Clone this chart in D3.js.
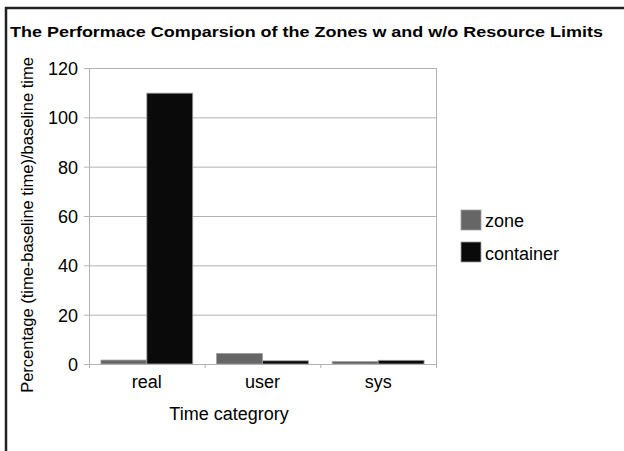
<!DOCTYPE html>
<html><head><meta charset="utf-8">
<script src="https://cdn.jsdelivr.net/npm/d3@7"></script>
<style>html,body{margin:0;padding:0;background:#fff;}svg{display:block;}</style>
</head><body>
<script>
const categories = ["real", "user", "sys"];
const seriesNames = ["zone", "container"];
const zoneValues = [1.6, 4.3, 1.0];
const containerValues = [109.8, 1.3, 1.5];
const yTicks = [0, 20, 40, 60, 80, 100, 120];
const colors = ["#666666", "#0a0a0a"];

(function () {
const W = 624, H = 451;
const svg = d3.select("body").append("svg").attr("width", W).attr("height", H);
svg.append("rect").attr("width", W).attr("height", H).attr("fill", "#fff");
// frame
svg.append("line").attr("x1", 6).attr("x2", 6).attr("y1", 7).attr("y2", H).attr("stroke", "#222").attr("stroke-width", 2.5);
svg.append("line").attr("x1", 5).attr("x2", W).attr("y1", 8).attr("y2", 8).attr("stroke", "#222").attr("stroke-width", 2.5);

const font = "Liberation Sans, Arial, sans-serif";
svg.append("text").attr("x", 10).attr("y", 37).text("The Performace Comparsion of the Zones w and w/o Resource Limits")
  .attr("font-family", font).attr("font-weight", "bold").attr("font-size", 15.5)
  .attr("textLength", 593).attr("lengthAdjust", "spacingAndGlyphs").attr("fill", "#000");

const pLeft = 89, pRight = 436, pTop = 68, pBottom = 364;
const x = d3.scaleBand().domain(categories).range([pLeft, pRight]);
const x1 = d3.scaleBand().domain(seriesNames).range([0, x.bandwidth()]).paddingOuter(0.26).paddingInner(0);
const y = d3.scaleLinear().domain([0, 120]).range([pBottom, pTop]);

const g = svg.append("g");
// grid
g.selectAll("line.grid").data(yTicks).join("line").attr("class", "grid")
  .attr("x1", pLeft - 5).attr("x2", pRight).attr("y1", d => y(d) + 0.5).attr("y2", d => y(d) + 0.5)
  .attr("stroke", "#b3b3b3").attr("stroke-width", 1);
g.append("line").attr("x1", pLeft + 0.5).attr("x2", pLeft + 0.5).attr("y1", pTop).attr("y2", pBottom + 4).attr("stroke", "#b3b3b3");
g.append("line").attr("x1", pRight + 0.5).attr("x2", pRight + 0.5).attr("y1", pTop).attr("y2", pBottom + 4).attr("stroke", "#b3b3b3");
categories.slice(1).forEach(c => {
  g.append("line").attr("x1", x(c) + 0.5).attr("x2", x(c) + 0.5).attr("y1", pBottom).attr("y2", pBottom + 4).attr("stroke", "#b3b3b3");
});

// bars
const data = categories.map((c, i) => ({c, vals: [zoneValues[i], containerValues[i]]}));
const grp = g.selectAll("g.cat").data(data).join("g").attr("transform", d => `translate(${x(d.c)},0)`);
grp.selectAll("rect").data(d => d.vals.map((v, j) => ({v, j}))).join("rect")
  .attr("x", d => x1(seriesNames[d.j]))
  .attr("width", x1.bandwidth())
  .attr("y", d => y(d.v))
  .attr("height", d => pBottom - y(d.v))
  .attr("fill", d => colors[d.j])
  .attr("stroke", "#a0a0a0").attr("stroke-width", 0.8);
g.append("line").attr("x1", pLeft - 5).attr("x2", pRight).attr("y1", pBottom + 0.5).attr("y2", pBottom + 0.5).attr("stroke", "#b3b3b3");

// y tick labels
g.selectAll("text.yt").data(yTicks).join("text").attr("class", "yt")
  .attr("x", 78).attr("y", d => y(d) + 7).attr("text-anchor", "end")
  .attr("font-family", font).attr("font-size", 18).attr("fill", "#000").text(d => d);
// x labels
g.selectAll("text.xt").data(categories).join("text").attr("class", "xt")
  .attr("x", d => x(d) + x.bandwidth() / 2).attr("y", 388).attr("text-anchor", "middle")
  .attr("font-family", font).attr("font-size", 18).attr("fill", "#000").text(d => d);
// axis titles
svg.append("text").attr("x", 229).attr("y", 420).attr("text-anchor", "middle")
  .attr("font-family", font).attr("font-size", 18).attr("fill", "#000").text("Time categrory");
svg.append("text").attr("transform", "translate(33,225) rotate(-90)").attr("text-anchor", "middle")
  .attr("font-family", font).attr("font-size", 16.5).attr("fill", "#000").text("Percentage (time-baseline time)/baseline time");

// legend
const lg = svg.append("g");
seriesNames.forEach((s, i) => {
  lg.append("rect").attr("x", 461).attr("y", 210 + i * 32).attr("width", 20).attr("height", 20)
    .attr("fill", colors[i]).attr("stroke", "#a0a0a0").attr("stroke-width", 0.8);
  lg.append("text").attr("x", 485).attr("y", 227 + i * 33).attr("font-family", font).attr("font-size", 18)
    .attr("fill", "#000").text(s);
});
})();
</script>
</body></html>
